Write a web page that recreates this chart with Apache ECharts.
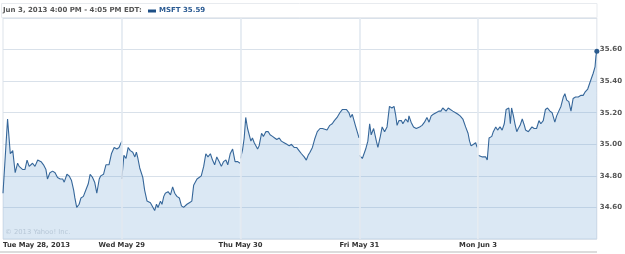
<!DOCTYPE html>
<html><head><meta charset="utf-8">
<script src="https://cdn.jsdelivr.net/npm/echarts@6/dist/echarts.min.js"></script>
<style>html,body{margin:0;padding:0;background:#fff}#c{width:625px;height:254px}</style>
</head><body><div id="c"></div>
<script>
const dayLabels = ['Tue May 28, 2013', 'Wed May 29', 'Thu May 30', 'Fri May 31', 'Mon Jun 3'];
const yTicks = [34.4, 35.8, 0.2];
const headerText = 'Jun 3, 2013 4:00 PM - 4:05 PM EDT:';
const legendText = 'MSFT 35.59';
const lastPrice = 35.59;

const day1Min = [0,15,24,32,40,48,53,59,65,72,79,86,97,105,114,125,133,141,146,154,163,171,179,188,196,201,210,217,225,232,236,242,250,256,264,272,280,286,294,301,308,316,321,330,338,348,356,365,374,381,390];
const day1Px = [34.69,35.16,34.94,34.96,34.82,34.88,34.86,34.85,34.84,34.84,34.90,34.86,34.88,34.86,34.90,34.89,34.87,34.84,34.78,34.82,34.83,34.82,34.79,34.78,34.78,34.76,34.81,34.80,34.77,34.71,34.66,34.60,34.62,34.66,34.67,34.71,34.75,34.81,34.79,34.76,34.69,34.78,34.80,34.81,34.87,34.87,34.94,34.98,34.97,34.98,35.02];

const day2Min = [0,7,14,21,28,36,43,48,53,59,69,75,83,94,99,108,114,119,127,132,138,143,152,160,167,174,181,189,196,203,209,214,222,230,236,241,247,254,261,269,276,283,291,298,305,312,320,327,334,342,348,356,364,372,381,388];
const day2Px = [34.78,34.93,34.91,34.98,34.96,34.95,34.92,34.95,34.91,34.85,34.79,34.71,34.64,34.63,34.62,34.58,34.62,34.60,34.64,34.62,34.67,34.69,34.70,34.68,34.73,34.69,34.67,34.66,34.61,34.60,34.60,34.62,34.63,34.64,34.74,34.73,34.78,34.79,34.80,34.86,34.94,34.92,34.94,34.90,34.87,34.92,34.89,34.86,34.89,34.90,34.87,34.94,34.97,34.89,34.89,34.88];

const day3Min = [0,7,12,17,23,28,34,39,45,50,56,61,69,75,83,91,97,105,112,119,127,134,143,152,160,167,176,184,192,200,209,216,222,228,236,243,252,261,269,275,284,293,301,308,317,326,334,341,348,356,361,367,372,377,383,389];
const day3Px = [34.91,34.97,35.04,35.17,35.10,35.09,35.02,35.04,35.01,35.00,34.97,34.99,35.07,35.05,35.08,35.08,35.06,35.05,35.04,35.03,35.04,35.02,35.01,35.00,34.99,35.00,34.98,34.98,34.96,34.94,34.92,34.90,34.93,34.95,34.98,35.03,35.08,35.10,35.10,35.11,35.09,35.12,35.13,35.15,35.17,35.20,35.22,35.22,35.22,35.20,35.17,35.19,35.19,35.12,35.08,35.04];

const day4Min = [0,10,14,21,28,34,39,47,50,56,61,69,75,83,91,99,107,114,119,124,130,138,143,152,160,163,170,178,187,198,206,214,222,229,236,243,252,261,268,274,279,285,292,299,307,316,324,331,340,349,357,362,367,375,382,387];
const day4Px = [34.93,34.91,34.90,34.97,35.02,35.13,35.06,35.10,35.11,35.02,34.98,35.05,35.11,35.08,35.11,35.24,35.23,35.24,35.19,35.12,35.15,35.15,35.13,35.16,35.14,35.18,35.14,35.11,35.10,35.11,35.12,35.14,35.17,35.14,35.18,35.19,35.20,35.21,35.21,35.23,35.24,35.21,35.23,35.22,35.21,35.20,35.19,35.18,35.16,35.11,35.07,35.02,34.99,35.00,35.01,34.98];

const day5Min = [0,14,20,25,30,36,45,50,58,64,72,79,86,92,97,101,106,110,116,121,127,132,138,145,152,156,165,170,177,184,192,200,206,214,221,228,236,243,252,258,265,272,280,285,291,298,305,312,320,329,338,345,351,360,367,373,378,384,387,390];
const day5Px = [34.93,34.92,34.93,34.92,34.90,35.04,35.05,35.08,35.11,35.09,35.11,35.09,35.13,35.22,35.21,35.23,35.13,35.23,35.18,35.13,35.08,35.10,35.12,35.16,35.12,35.09,35.08,35.08,35.11,35.10,35.10,35.15,35.13,35.15,35.22,35.23,35.21,35.20,35.14,35.18,35.21,35.24,35.30,35.32,35.28,35.27,35.21,35.29,35.30,35.30,35.31,35.31,35.33,35.35,35.39,35.39,35.45,35.49,35.56,35.59];

const SESSION = 390;
const days = [[day1Min, day1Px], [day2Min, day2Px], [day3Min, day3Px], [day4Min, day4Px], [day5Min, day5Px]];
const FONT = '"DejaVu Sans", Verdana, sans-serif';

const series = days.map((d, di) => {
  const s = {
    type: 'line',
    data: d[0].map((m, i) => [di * SESSION + m, d[1][i]]),
    symbol: 'none',
    lineStyle: { color: '#36679a', width: 1.1 },
    areaStyle: { color: 'rgba(105,160,208,0.34)', origin: 'start' },
    animation: false,
    z: 3
  };
  if (di === days.length - 1) {
    s.markLine = {
      silent: true, symbol: 'none', label: { show: false }, animation: false,
      lineStyle: { color: '#e2e9f0', width: 1.6, type: 'solid' },
      data: [1, 2, 3, 4].map(k => ({ xAxis: k * SESSION }))
    };
    s.markPoint = {
      symbol: 'circle', symbolSize: 5, label: { show: false }, animation: false,
      itemStyle: { color: '#2b5b8e' },
      data: [{ coord: [days.length * SESSION, lastPrice] }]
    };
  }
  return s;
});

const chart = echarts.init(document.getElementById('c'), null, { renderer: 'canvas' });
chart.setOption({
  animation: false,
  grid: { left: 2, right: 28, top: 18, bottom: 15, show: true, borderColor: '#dde3ea', borderWidth: 1, backgroundColor: 'transparent' },
  xAxis: {
    type: 'value', min: 0, max: days.length * SESSION, interval: SESSION,
    axisLine: { show: false }, axisTick: { show: false }, splitLine: { show: false },
    axisLabel: {
      showMaxLabel: false, alignMinLabel: 'left', margin: 3,
      color: '#333', fontWeight: 'bold', fontSize: 6.8, fontFamily: FONT,
      formatter: v => dayLabels[Math.round(v / SESSION)] || ''
    }
  },
  yAxis: {
    type: 'value', position: 'right', min: yTicks[0], max: yTicks[1], interval: yTicks[2],
    axisLine: { show: false }, axisTick: { show: false },
    splitLine: { show: true, lineStyle: { color: '#d9e1ea', width: 1 } },
    axisLabel: {
      showMinLabel: false, showMaxLabel: false, margin: 3,
      color: '#555', fontWeight: 'bold', fontSize: 7, fontFamily: FONT,
      formatter: v => v.toFixed(2)
    }
  },
  series: series,
  graphic: [
    { type: 'rect', shape: { x: 1.5, y: 3.5, width: 595.5, height: 14 }, style: { fill: 'none', stroke: '#e8ebef', lineWidth: 1 }, silent: true },
    { type: 'text', left: 3, top: 6.5, style: { text: headerText, fill: '#555', font: 'bold 7px ' + FONT } },
    { type: 'rect', shape: { x: 148, y: 9.5, width: 8, height: 3 }, style: { fill: '#1d4f86' }, silent: true },
    { type: 'text', left: 159, top: 6.5, style: { text: legendText, fill: '#2a5a92', font: 'bold 7px ' + FONT } },
    { type: 'text', left: 5, top: 229, z: 10, style: { text: '\u00a9 2013 Yahoo! Inc.', fill: 'rgba(140,160,180,0.45)', font: '6.8px ' + FONT } },
    { type: 'line', shape: { x1: 0, y1: 252, x2: 597, y2: 252 }, style: { stroke: '#dcdcdc', lineWidth: 2 }, silent: true }
  ]
});
</script></body></html>
